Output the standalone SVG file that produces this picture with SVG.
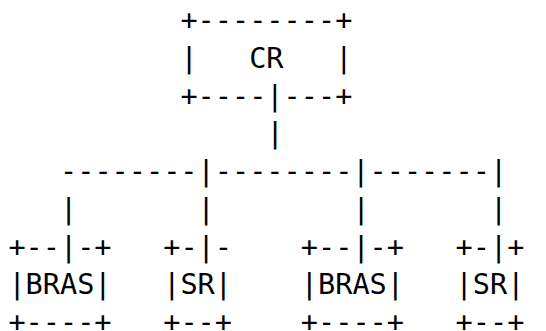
<svg xmlns="http://www.w3.org/2000/svg" width="546" height="331" viewBox="0 0 546 331">
<style>
text { font-family: "DejaVu Sans Mono", "Liberation Mono", monospace; font-size: 28.57px; fill: #000; white-space: pre; }
</style>
<rect width="546" height="331" fill="#fff"/>
<g id="node-cr">
<text x="180.4" y="30.3">+--------+</text>
<text x="180.4" y="68">|   CR   |</text>
<text x="180.4" y="105.7">+----|---+</text>
</g>
<g id="connectors">
<text x="266.4" y="143.4">|</text>
<text x="60" y="181.1">--------|--------|-------|</text>
<text x="60" y="218.8">|</text>
<text x="197.6" y="218.8">|</text>
<text x="352.4" y="218.8">|</text>
<text x="490" y="218.8">|</text>
</g>
<g id="node-bras1">
<text x="8.4" y="256.5">+--|-+</text>
<text x="8.4" y="294.2">|BRAS|</text>
<text x="8.4" y="331.9">+----+</text>
</g>
<g id="node-sr1">
<text x="163.2" y="256.5">+-|-</text>
<text x="163.2" y="294.2">|SR|</text>
<text x="163.2" y="331.9">+--+</text>
</g>
<g id="node-bras2">
<text x="300.8" y="256.5">+--|-+</text>
<text x="300.8" y="294.2">|BRAS|</text>
<text x="300.8" y="331.9">+----+</text>
</g>
<g id="node-sr2">
<text x="455.6" y="256.5">+-|+</text>
<text x="455.6" y="294.2">|SR|</text>
<text x="455.6" y="331.9">+--+</text>
</g>
</svg>
